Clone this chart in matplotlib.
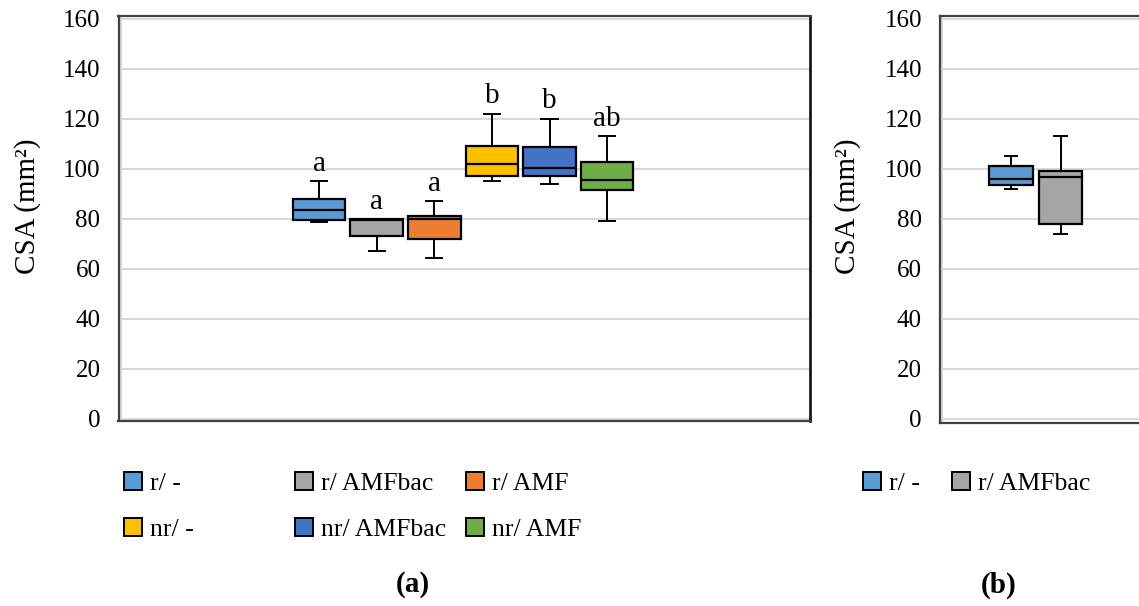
import matplotlib.pyplot as plt
from matplotlib.patches import Rectangle

plt.rcParams['font.family'] = ['Liberation Serif', 'DejaVu Serif']

# panel (a): six treatments
groups_a = ['r/ -', 'r/ AMFbac', 'r/ AMF', 'nr/ -', 'nr/ AMFbac', 'nr/ AMF']
colors_a = ['#5B9BD5', '#A5A5A5', '#ED7D31', '#FFC000', '#4472C4', '#70AD47']
whislo_a = [78.8, 67.0, 64.2, 95.2, 93.8, 79.0]
q1_a = [79.6, 72.9, 71.7, 97.2, 96.9, 91.6]
med_a = [83.6, 79.3, 80.0, 102.0, 100.4, 95.3]
q3_a = [88.0, 79.8, 81.0, 109.2, 108.6, 102.5]
whishi_a = [95.0, 79.8, 87.0, 122.0, 120.0, 112.9]
letters_a = ['a', 'a', 'a', 'b', 'b', 'ab']

# panel (b): two treatments
groups_b = ['r/ -', 'r/ AMFbac']
colors_b = ['#5B9BD5', '#A5A5A5']
whislo_b = [92.0, 73.9]
q1_b = [93.5, 78.1]
med_b = [96.0, 96.8]
q3_b = [101.3, 99.1]
whishi_b = [105.2, 113.1]

yticks = [0, 20, 40, 60, 80, 100, 120, 140, 160]

W, H = 1139, 606
fig = plt.figure(figsize=(W / 100, H / 100), dpi=100)


def fx(x):
    return x / W


def fy(y):
    return 1 - y / H


def make_stats(lo, q1, med, q3, hi):
    return [dict(whislo=a, q1=b, med=c, q3=d, whishi=e, fliers=[])
            for a, b, c, d, e in zip(lo, q1, med, q3, hi)]


def draw_panel(ax, stats, colors, width, capw, xlim, ylim):
    bp = ax.bxp(stats, positions=range(len(stats)), widths=width,
                patch_artist=True, showfliers=False, capwidths=capw,
                boxprops=dict(edgecolor='black', linewidth=1.6),
                medianprops=dict(color='black', linewidth=1.6),
                whiskerprops=dict(color='black', linewidth=1.4),
                capprops=dict(color='black', linewidth=1.4))
    for patch, c in zip(bp['boxes'], colors):
        patch.set_facecolor(c)
    ax.set_xlim(*xlim)
    ax.set_ylim(*ylim)
    ax.set_yticks(yticks)
    ax.set_xticks([])
    ax.tick_params(axis='y', length=0, pad=13, labelsize=18)
    ax.grid(axis='y', color='#D9D9D9', linewidth=1.5)
    ax.set_axisbelow(True)
    for s in ax.spines.values():
        s.set_color('#404040')
        s.set_linewidth(1.6)
    ax.spines['right'].set_color('#1a1a1a')
    ax.spines['right'].set_linewidth(2)


# panel (a) axes
ax1 = fig.add_axes([fx(118.5), fy(421), fx(810 - 118.5), (421 - 15.5) / H])
draw_panel(ax1, make_stats(whislo_a, q1_a, med_a, q3_a, whishi_a), colors_a,
           0.91, 0.28, (-3.48, 8.52), (-1.0, 161.2))
ax1.axvline(-3.44, color='#D9D9D9', linewidth=1.5, zorder=0)
for i, (hi, txt) in enumerate(zip(whishi_a, letters_a)):
    ax1.annotate(txt, (i, hi), xytext=(0, 3), textcoords='offset points',
                 ha='center', va='bottom', fontsize=21)

# panel (b) axes, running off the right edge
ax2 = fig.add_axes([fx(940), fy(422.5), fx(1150 - 940), (422.5 - 15.5) / H])
draw_panel(ax2, make_stats(whislo_b, q1_b, med_b, q3_b, whishi_b), colors_b,
           0.88, 0.26, (-1.43, 2.8), (-1.4, 161.3))
ax2.axvline(-1.39, color='#D9D9D9', linewidth=1.5, zorder=0)

for x in (27.5, 848):
    fig.text(fx(x), fy(206), 'CSA (mm²)', rotation=90, ha='center',
             va='center', fontsize=21)


def legend_item(x, y, color, label):
    fig.add_artist(Rectangle((fx(x), fy(y + 9)), 18 / W, 18 / H,
                             transform=fig.transFigure, facecolor=color,
                             edgecolor='black', linewidth=1.4))
    fig.text(fx(x + 26), fy(y), label, ha='left', va='center_baseline',
             fontsize=18.5)


# legend (a): three columns, two rows
cols_x = [124, 295, 466]
rows_y = [481, 527]
for i, (g, c) in enumerate(zip(groups_a, colors_a)):
    legend_item(cols_x[i % 3], rows_y[i // 3], c, g)

# legend (b)
for x, g, c in zip([863, 952], groups_b, colors_b):
    legend_item(x, 481, c, g)

fig.text(fx(413), fy(585), '(a)', ha='center', va='center', fontsize=21,
         fontweight='bold')
fig.text(fx(999), fy(585), '(b)', ha='center', va='center', fontsize=21,
         fontweight='bold')

fig.savefig('out.png', dpi=100)
